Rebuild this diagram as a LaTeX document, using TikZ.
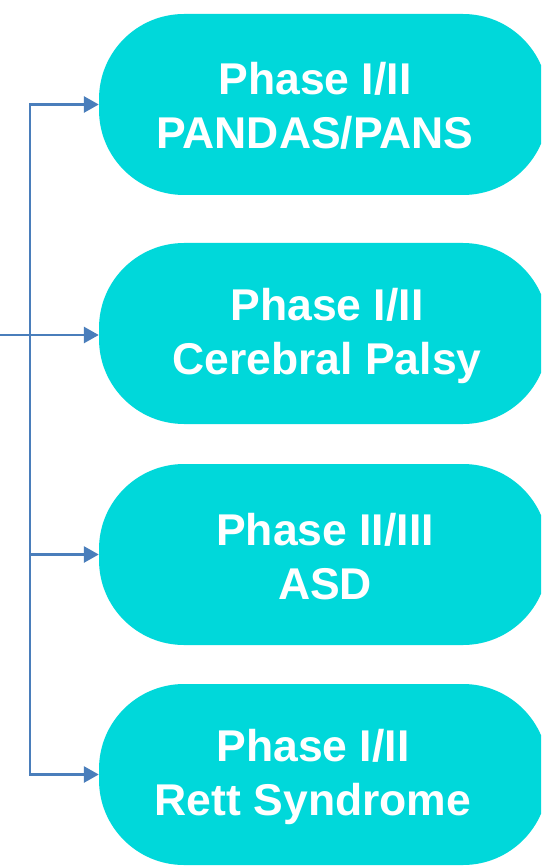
\documentclass[tikz,border=0pt]{standalone}
\usepackage{fontspec}
\setmainfont{Liberation Sans}
\usetikzlibrary{arrows.meta}
\definecolor{pillfill}{RGB}{0,216,218}
\definecolor{linecol}{RGB}{74,126,187}
\tikzset{
  pill/.style={fill=pillfill, draw=none, rounded corners=85pt, minimum width=449pt, minimum height=181pt, inner sep=0pt},
  pilltext/.style={text=white, font=\fontsize{44.5}{54}\selectfont\bfseries, align=center, inner sep=0pt},
  conn/.style={draw=linecol, line width=2.8pt},
  arr/.style={conn, -{Triangle[length=15pt,width=16pt]}}
}
\begin{document}
\begin{tikzpicture}[x=1pt,y=-1pt]
\clip (0,0) rectangle (541,866);
\useasboundingbox (0,0) rectangle (541,866);
\node[pill] (p1) at (323.5,104.5) {};
\node[pill] (p2) at (323.5,333.5) {};
\node[pill] (p3) at (323.5,554.5) {};
\node[pill] (p4) at (323.5,774.5) {};
\node[pilltext] (t1) at (315,106) {Phase I/II\\PANDAS/PANS};
\node[pilltext] (t2) at (327,336) {Phase I/II\\Cerebral Palsy};
\node[pilltext] (t3) at (325,557) {Phase II/III\\ASD};
\node[pilltext] (t4) at (313,777) {Phase I/II\\Rett Syndrome};
\coordinate (in) at (0,335);
\coordinate (bus) at (30,335);
\draw[conn] (in) -- (bus);
\draw[arr] (bus) |- (p1.west);
\draw[arr] (bus) -- (bus -| p2.west);
\draw[arr] (bus) |- (p3.west);
\draw[arr] (bus) |- (p4.west);
\end{tikzpicture}
\end{document}
